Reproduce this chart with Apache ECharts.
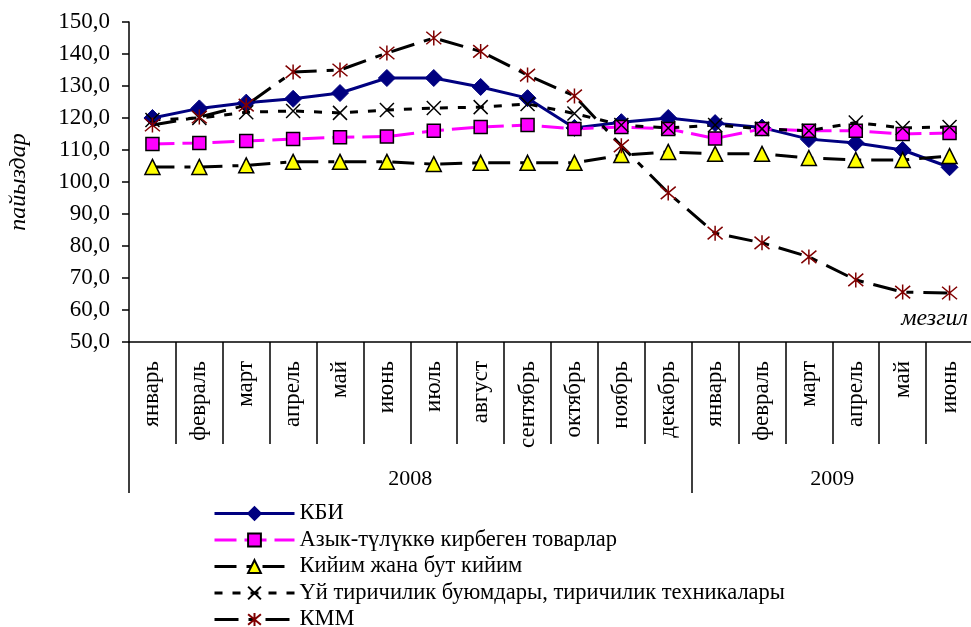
<!DOCTYPE html>
<html>
<head>
<meta charset="utf-8">
<script src="https://cdn.jsdelivr.net/npm/echarts@6/dist/echarts.min.js"></script>
<style>
html,body{margin:0;padding:0;background:#fff;}
#chart{width:971px;height:627px;}
</style>
</head>
<body>
<div id="chart"></div>
<script>
const months = ['январь','февраль','март','апрель','май','июнь','июль','август','сентябрь','октябрь','ноябрь','декабрь','январь','февраль','март','апрель','май','июнь'];
const years = ['2008', '2009'];
const yearSpans = [12, 6];

const kbi = [120.0, 123.0, 124.8, 126.0, 127.8, 132.5, 132.5, 129.7, 126.2, 116.9, 118.7, 120.0, 118.4, 117.0, 113.4, 112.2, 110.0, 104.6];
const nonFood = [111.9, 112.2, 112.8, 113.4, 114.0, 114.2, 116.0, 117.2, 117.8, 116.6, 117.2, 116.6, 113.6, 116.6, 116.0, 116.0, 115.0, 115.3];
const clothing = [104.7, 104.7, 105.2, 106.3, 106.3, 106.3, 105.6, 106.0, 106.0, 106.0, 108.4, 109.4, 108.8, 108.8, 107.5, 106.9, 106.9, 108.1];
const household = [119.4, 120.0, 121.8, 122.2, 121.6, 122.5, 123.1, 123.4, 124.4, 121.4, 117.8, 116.9, 117.8, 116.6, 116.0, 118.6, 116.9, 117.2];
const kmm = [117.8, 120.3, 124.0, 134.4, 135.0, 140.3, 145.0, 140.8, 133.4, 126.9, 111.3, 96.6, 84.0, 81.0, 76.6, 69.4, 65.6, 65.3];

const seriesNames = ['КБИ', 'Азык-түлүккө кирбеген товарлар', 'Кийим жана бут кийим', 'Үй тиричилик буюмдары, тиричилик техникалары', 'КММ'];

const FONT = 'Liberation Serif';

// year boundaries / centers on the value axis
const yearBounds = [0];
yearSpans.forEach((s, i) => yearBounds.push(yearBounds[i] + s));
const yearCenters = yearSpans.map((s, i) => yearBounds[i] + s / 2);

const chart = echarts.init(document.getElementById('chart'), null, {renderer: 'canvas'});

const option = {
  animation: false,
  backgroundColor: '#ffffff',
  grid: {left: 129, top: 22, width: 844, bottom: 285, containLabel: false, outerBoundsMode: 'none'},
  xAxis: [
    {
      type: 'category',
      data: months,
      boundaryGap: true,
      position: 'bottom',
      axisLine: {show: true, lineStyle: {color: '#000', width: 1.5}},
      axisTick: {show: true, interval: 0, length: 102, lineStyle: {color: '#000', width: 1.5}},
      axisLabel: {interval: 0, rotate: 90, margin: 19, color: '#000', fontFamily: FONT, fontSize: 23},
      splitLine: {show: false}
    },
    {
      type: 'value',
      min: 0,
      max: yearBounds[yearBounds.length - 1],
      position: 'bottom',
      axisLine: {show: false},
      axisTick: {show: true, customValues: yearBounds.slice(0, -1), length: 151, lineStyle: {color: '#000', width: 1.5}},
      axisLabel: {
        show: true,
        customValues: yearCenters,
        margin: 126,
        color: '#000', fontFamily: FONT, fontSize: 22,
        formatter: function (v) {
          const i = yearCenters.indexOf(v);
          return i >= 0 ? years[i] : '';
        }
      },
      splitLine: {show: false}
    }
  ],
  yAxis: {
    type: 'value',
    min: 50,
    max: 150,
    interval: 10,
    name: 'пайыздар',
    nameLocation: 'middle',
    nameRotate: 90,
    nameGap: 98,
    nameTextStyle: {fontFamily: FONT, fontStyle: 'italic', fontSize: 24, color: '#000'},
    axisLine: {show: true, lineStyle: {color: '#000', width: 1.5}},
    axisTick: {show: true, length: 7, lineStyle: {color: '#000', width: 1.5}},
    axisLabel: {
      margin: 19, color: '#000', fontFamily: FONT, fontSize: 23,
      formatter: v => v.toFixed(1).replace('.', ',')
    },
    splitLine: {show: false}
  },
  legend: {
    orient: 'vertical',
    left: 213,
    top: 502,
    height: 160,
    padding: 0,
    itemWidth: 80,
    itemHeight: 16,
    itemGap: 3.5,
    lineStyle: {width: 3},
    textStyle: {fontFamily: FONT, fontSize: 22.5, color: '#000', lineHeight: 23},
    data: seriesNames
  },
  graphic: [
    {type: 'text', right: 3, top: 307, style: {text: 'мезгил', fontFamily: FONT, fontStyle: 'italic', fontSize: 24, fill: '#000'}}
  ],
  series: [
    {
      name: seriesNames[0], type: 'line', data: kbi,
      symbol: 'diamond', symbolSize: 17,
      lineStyle: {color: '#000080', width: 3, type: 'solid'},
      itemStyle: {color: '#000080', borderColor: '#000080', borderWidth: 1}
    },
    {
      name: seriesNames[1], type: 'line', data: nonFood,
      symbol: 'rect', symbolSize: 13,
      lineStyle: {color: '#ff00ff', width: 3, type: [22, 8]},
      itemStyle: {color: '#ff00ff', borderColor: '#000', borderWidth: 1.5}
    },
    {
      name: seriesNames[2], type: 'line', data: clothing,
      symbol: 'triangle', symbolSize: 15,
      lineStyle: {color: '#000', width: 3, type: [22, 10, 6, 10]},
      itemStyle: {color: '#ffff00', borderColor: '#000', borderWidth: 1.5}
    },
    {
      name: seriesNames[3], type: 'line', data: household,
      symbol: 'path://M0,0L10,10M10,0L0,10', symbolSize: 14,
      lineStyle: {color: '#000', width: 3, type: [8, 10]},
      itemStyle: {color: 'rgba(0,0,0,0)', borderColor: '#000', borderWidth: 1.5}
    },
    {
      name: seriesNames[4], type: 'line', data: kmm,
      symbol: 'path://M0,0L10,10M10,0L0,10M5,-1L5,11', symbolSize: 15,
      lineStyle: {color: '#000', width: 3, type: [24, 10, 7, 10]},
      itemStyle: {color: 'rgba(0,0,0,0)', borderColor: '#800000', borderWidth: 1.5}
    }
  ]
};
chart.setOption(option);
</script>
</body>
</html>
